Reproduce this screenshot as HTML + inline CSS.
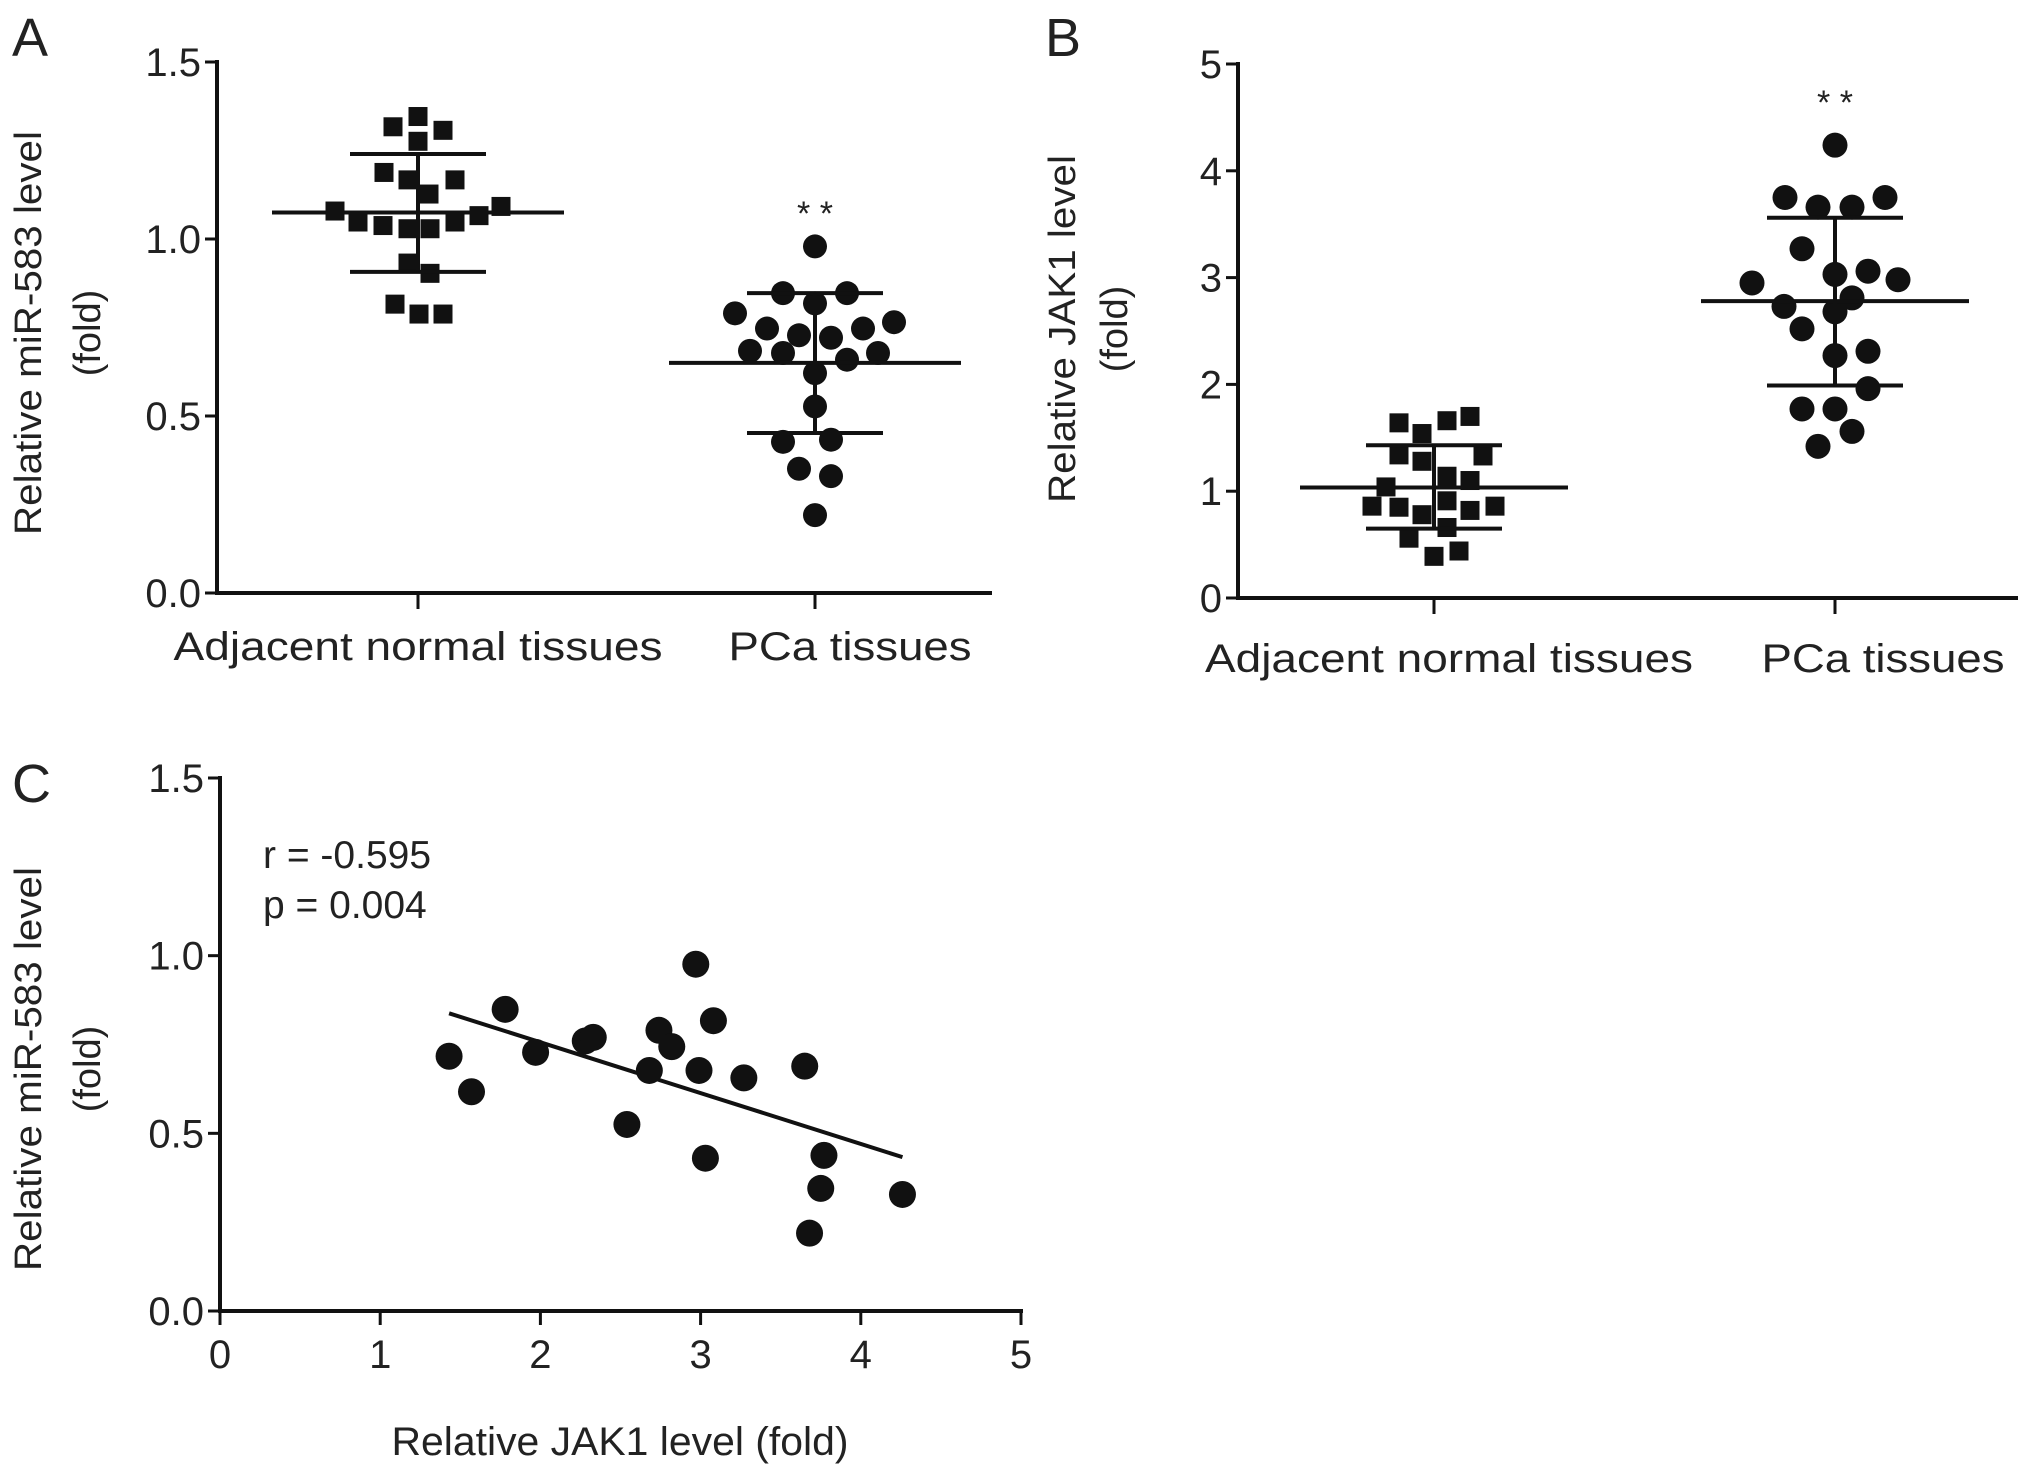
<!DOCTYPE html>
<html><head><meta charset="utf-8"><style>
body{margin:0;background:#fff}
svg{display:block}
text{font-family:"Liberation Sans",Arial,sans-serif;fill:#222}
</style></head><body>
<svg id="fig" width="2031" height="1481" viewBox="0 0 2031 1481" xmlns="http://www.w3.org/2000/svg"></svg>
<script>
// Panel A data
const aCategories = ["Adjacent normal tissues","PCa tissues"];
const aNormal = [1.346,1.317,1.307,1.276,1.188,1.167,1.167,1.127,1.079,1.092,1.066,1.048,1.038,1.029,1.029,1.048,0.932,0.903,0.816,0.788,0.788];
const aNormalJit = [0,-25,25,0,-34,-10,37,11,-83,83,61,-60,-35,-10,12,37,-10,12,-23,1,25];
const aNormalStats = [1.075,1.24,0.907];
const aPCa = [0.979,0.847,0.847,0.818,0.790,0.765,0.747,0.728,0.721,0.747,0.684,0.678,0.659,0.678,0.621,0.527,0.427,0.433,0.351,0.330,0.220];
const aPCaJit = [0,-32,32,0,-80,79,-48,-16,16,48,-65,-32,32,63,0,0,-32,16,-16,16,0];
const aPCaStats = [0.650,0.847,0.452];
const aTicks = ["0.0","0.5","1.0","1.5"];
// Panel B data
const bCategories = ["Adjacent normal tissues","PCa tissues"];
const bNormal = [1.64,1.66,1.70,1.54,1.34,1.33,1.28,1.14,1.10,1.04,0.86,0.85,0.78,0.91,0.82,0.86,0.66,0.56,0.44,0.39];
const bNormalJit = [-35,13,36,-12,-35,49,-12,13,36,-48,-62,-35,-12,13,36,61,13,-25,25,0];
const bNormalStats = [1.035,1.43,0.65];
const bPCa = [4.24,3.75,3.66,3.66,3.75,3.27,3.03,3.06,2.95,2.98,2.81,2.73,2.68,2.52,2.27,2.31,1.96,1.77,1.77,1.56,1.42];
const bPCaJit = [0,-50,-17,17,50,-33,0,33,-83,63,17,-51,0,-33,0,33,33,-33,0,17,-17];
const bPCaStats = [2.78,3.56,1.99];
const bTicks = ["0","1","2","3","4","5"];
// Panel C data
const cJak = [1.43,1.57,1.78,1.97,2.28,2.33,2.54,2.68,2.74,2.82,2.97,2.99,3.08,3.03,3.27,3.65,3.68,3.75,3.77,4.26];
const cMir = [0.717,0.617,0.849,0.728,0.760,0.770,0.525,0.677,0.790,0.744,0.976,0.677,0.817,0.430,0.656,0.689,0.219,0.345,0.438,0.328];
const cYTicks = ["0.0","0.5","1.0","1.5"];
const cXTicks = ["0","1","2","3","4","5"];

const svg=document.getElementById('fig');
const NS="http://www.w3.org/2000/svg";
function mk(tag,attrs,parent){const e=document.createElementNS(NS,tag);for(const k in attrs)e.setAttribute(k,attrs[k]);(parent||svg).appendChild(e);return e;}
function line(x1,y1,x2,y2,w,p){return mk('line',{x1,y1,x2,y2,stroke:'#111','stroke-width':w},p);}
function txt(s,x,y,size,anchor,p,extra){const t=mk('text',Object.assign({x,y,'font-size':size,'text-anchor':anchor||'start'},extra||{}),p);t.textContent=s;return t;}

function yTitle(g,l1,l2,x1,x2,cy,len1){
  const t1=txt(l1,0,0,38,'middle',g,{transform:`translate(${x1},${cy}) rotate(-90)`,textLength:len1,lengthAdjust:'spacingAndGlyphs'});
  
  
  const t2=txt(l2,0,0,38,'middle',g,{transform:`translate(${x2},${cy}) rotate(-90)`});
  
  
}

function scatterPanel(o){
  const g=mk('g',{});
  
  
  const y=v=>o.y0-(v/o.ymax)*(o.y0-o.y1);
  const L=txt(o.letter,o.lx,o.ly,54,'start',g);
  
  
  line(o.ax,o.y1-2,o.ax,o.y0+2,4,g);
  line(o.ax,o.y0,o.xend,o.y0,4,g);
  o.ticks.forEach(s=>{const v=parseFloat(s);const yy=y(v);line(o.ax-12,yy,o.ax,yy,3,g);
    const t=txt(s,o.ax-16,yy+14,40,'end',g);
    
    });
  yTitle(g,o.t1,o.t2,o.tx1,o.tx2,o.tcy,o.tlen);
  o.groups.forEach((gr,i)=>{
    const cx=o.cx[i];
    line(cx,o.y0,cx,o.y0+16,3,g);
    const cl=txt(o.cats[i],o.catx[i],o.caty,40,'middle',g,{textLength:o.catw[i],lengthAdjust:'spacingAndGlyphs'});
    
    
    gr.vals.forEach((v,j)=>{
      const px=cx+gr.jit[j], py=y(v);
      let m;
      if(gr.shape==='sq'){m=mk('rect',{x:px-o.sq/2,y:py-o.sq/2,width:o.sq,height:o.sq,fill:'#111'},g);}
      else{m=mk('circle',{cx:px,cy:py,r:o.cr,fill:'#111'},g);}
      
      
    });
    const st=gr.stats;
    const e1=line(cx-o.mw,y(st[0]),cx+o.mw,y(st[0]),4,g);
    
    
    line(cx-o.sw,y(st[1]),cx+o.sw,y(st[1]),4,g);
    line(cx-o.sw,y(st[2]),cx+o.sw,y(st[2]),4,g);
    line(cx,y(st[1]),cx,y(st[2]),4,g);
  });
  const s=txt('* *',o.cx[1],o.stary,34,'middle',g);
  
  
}

scatterPanel({name:'panel-a',letter:'A',lx:12,ly:56,ax:217,y0:593,y1:62,ymax:1.5,xend:992,ticks:aTicks,
  t1:'Relative miR-583 level',t2:'(fold)',tx1:41,tx2:100,tcy:333,tlen:404,
  cx:[418,815],cats:aCategories,catx:[418,850],caty:660,catw:[489,243],
  groups:[{vals:aNormal,jit:aNormalJit,stats:aNormalStats,shape:'sq'},{vals:aPCa,jit:aPCaJit,stats:aPCaStats,shape:'ci'}],
  sq:19,cr:12,mw:146,sw:68,stary:225});

scatterPanel({name:'panel-b',letter:'B',lx:1045,ly:56,ax:1238,y0:598,y1:64,ymax:5,xend:2018,ticks:bTicks,
  t1:'Relative JAK1 level',t2:'(fold)',tx1:1075,tx2:1127,tcy:329,tlen:348,
  cx:[1434,1835],cats:bCategories,catx:[1449,1883],caty:672,catw:[488,243],
  groups:[{vals:bNormal,jit:bNormalJit,stats:bNormalStats,shape:'sq'},{vals:bPCa,jit:bPCaJit,stats:bPCaStats,shape:'ci'}],
  sq:19,cr:12.5,mw:134,sw:68,stary:114});

// Panel C
(function(){
  const g=mk('g',{});
  
  
  const ax=220,y0=1311,y1=778,xr=1021;
  const X=v=>ax+v/5*(xr-ax), Y=v=>y0-v/1.5*(y0-y1);
  const L=txt('C',12,802,54,'start',g);
  
  
  line(ax,y1-2,ax,y0+2,4,g); line(ax-2,y0,xr+2,y0,4,g);
  cYTicks.forEach(s=>{const yy=Y(parseFloat(s));line(ax-12,yy,ax,yy,3,g);
    const t=txt(s,ax-16,yy+14,40,'end',g);
    
    });
  cXTicks.forEach(s=>{const xx=X(parseFloat(s));line(xx,y0,xx,y0+14,3,g);
    const t=txt(s,xx,y0+57,40,'middle',g);
    
    });
  yTitle(g,'Relative miR-583 level','(fold)',41,100,1069,404);
  const xt=txt('Relative JAK1 level  (fold)',620,1455,40,'middle',g,{textLength:457,lengthAdjust:'spacingAndGlyphs'});
  
  
  const r=txt('r = -0.595',263,868,39,'start',g);
  
  
  const p=txt('p = 0.004',263,918,39,'start',g);
  
  
  const n=cJak.length;let mx=0,my=0;for(let i=0;i<n;i++){mx+=cJak[i];my+=cMir[i];}mx/=n;my/=n;
  let sxy=0,sxx=0;for(let i=0;i<n;i++){sxy+=(cJak[i]-mx)*(cMir[i]-my);sxx+=(cJak[i]-mx)**2;}
  const b=sxy/sxx,a=my-b*mx;const xmin=Math.min(...cJak),xmax=Math.max(...cJak);
  const rl=line(X(xmin),Y(a+b*xmin),X(xmax),Y(a+b*xmax),4,g);
  
  
  cJak.forEach((v,i)=>{const c=mk('circle',{cx:X(v),cy:Y(cMir[i]),r:13.5,fill:'#111'},g);
    
    });
})();
</script>
</body></html>
